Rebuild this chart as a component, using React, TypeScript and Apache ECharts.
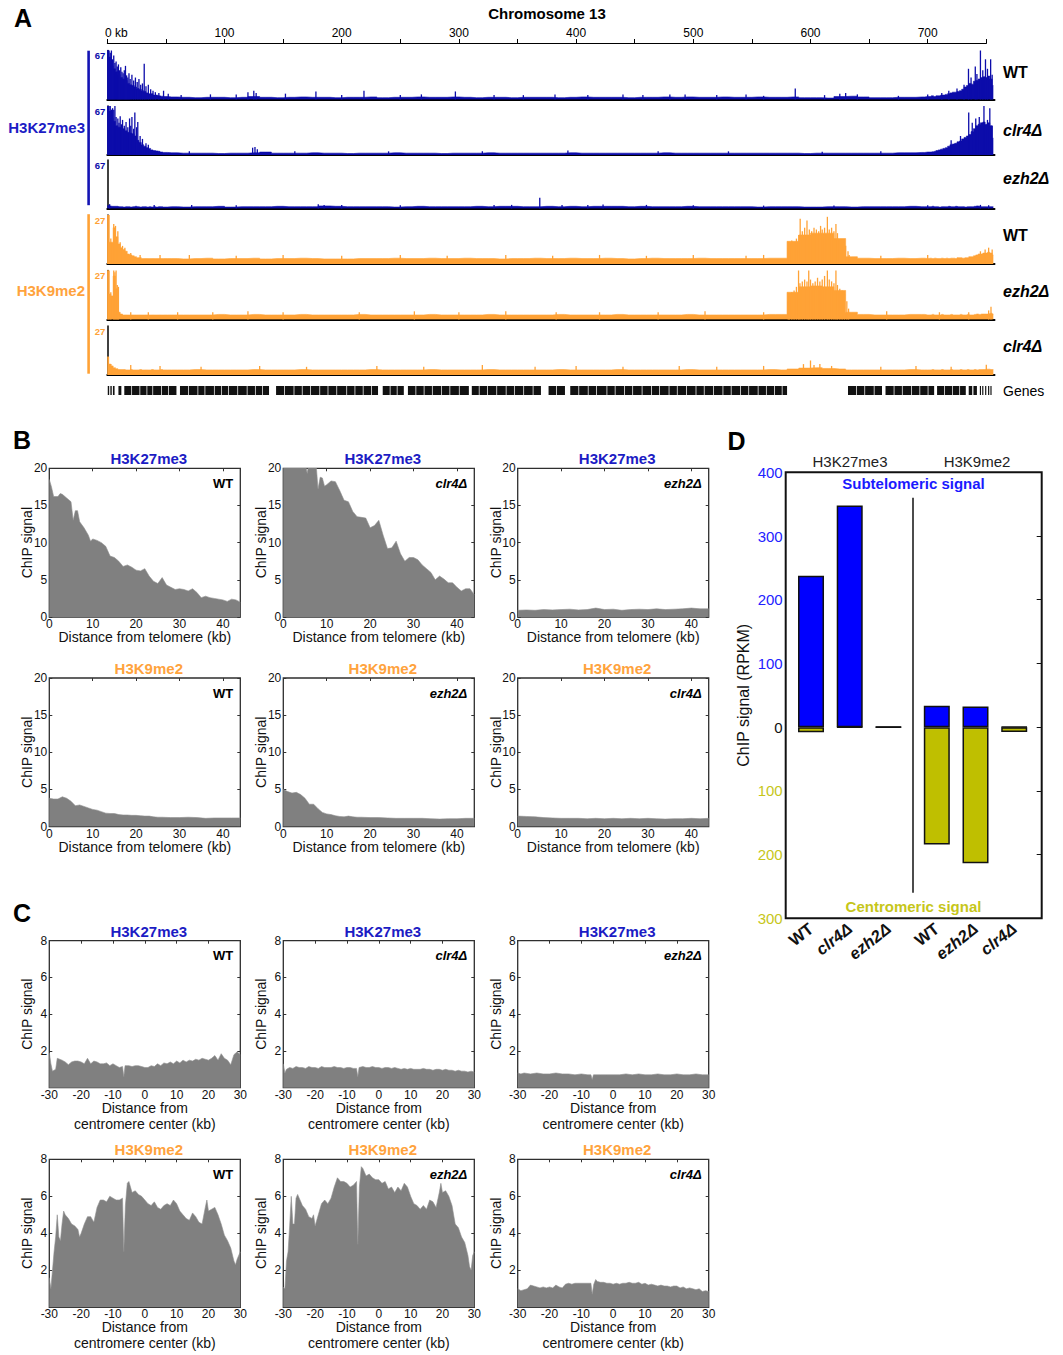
import React, { useEffect, useRef } from "react";
import * as echarts from "echarts";

const FF = "'Liberation Sans', Arial, Helvetica, sans-serif";
const BLUE = "#0c0caa";
const ORANGE = "#ffa236";
const TBLUE = "#1c1cc4";
const TORANGE = "#ffa33d";
const GRAY = "#808080";
const DBLUE = "#0000ff";
const DYELLOW = "#bfbf00";
const DYTEXT = "#c6c61a";

// ---------------- Panel A : Chromosome 13 tracks ----------------
const chromAxisMaxKb = 750;
const chromLengthKb = 757;
const chromTickKb = 50;
// bins: left telomere 0..48 step 2 ; body 55..695 step 10 ; right telomere 700..756 step 2
const k27WtLeft = [67, 58, 46, 42, 38, 34, 30, 28, 26, 22, 20, 19, 17, 15, 14, 12, 11, 9, 8, 8, 6, 6, 5, 4.5, 4];
const k27WtBody = [3.5, 3, 2.5, 3, 3, 2.5, 3, 4, 3, 2.5, 3, 3.5, 3, 3, 2.5, 3, 3, 3.5, 2.5, 3, 3, 3.5, 3, 3, 3.5, 3, 2.5, 3, 3, 2.5, 3, 3, 3, 2.5, 3, 3.5, 3, 3, 3, 2.5, 3, 3, 3.5, 3, 3.5, 3, 3, 3.5, 3, 3, 3.5, 3, 3, 3.5, 2.5, 2.5, 2, 4, 4.5, 3.5, 2.5, 2.5, 3, 3, 3.5];
const k27WtRight = [4, 4, 5, 4, 5, 5, 6, 6, 7, 8, 9, 10, 10, 11, 12, 14, 17, 19, 22, 21, 25, 26, 28, 30, 31, 30, 32, 28, 19];
const k27WtSpikes = [[0.5, 67], [1.5, 67], [2.5, 64], [3.5, 67], [4.5, 55], [5.5, 60], [6.5, 50], [7.5, 52], [8.5, 45], [9.5, 48], [10.5, 40], [11.5, 44], [12.5, 38], [13.5, 36], [14.5, 40], [15.5, 46], [16.5, 33], [17.5, 30], [18.5, 36], [19.5, 28], [21, 34], [22.5, 26], [24, 30], [25.5, 24], [27, 28], [28.5, 20], [30, 22], [31.5, 49], [33, 18], [35, 20], [37, 14], [39, 12], [41, 10], [44, 9], [48, 12], [52, 8], [63, 6], [88, 7], [110, 7], [120, 10], [125, 12], [127, 9], [152, 8], [178, 11], [200, 6], [219, 12], [250, 6], [268, 7], [297, 11], [330, 6], [355, 6], [382, 7], [410, 6], [440, 7], [457, 6], [480, 7], [493, 7], [520, 6], [545, 7], [560, 5], [587, 15], [612, 6], [625, 8], [630, 9], [640, 7], [675, 5], [700, 7], [712, 9], [718, 12], [725, 15], [731, 20], [734.8, 42], [737, 30], [740.6, 45], [742, 35], [745, 67], [747, 40], [749.3, 55], [751, 42], [753.7, 55], [755, 34]];

const k27ClrLeft = [67, 60, 50, 46, 40, 38, 38, 36, 33, 31, 30, 29, 26, 20, 17, 14, 12, 10, 9, 7, 6, 5.5, 5, 4, 3.5];
const k27ClrBody = [3, 2.5, 2.5, 2.5, 2, 2.5, 2.5, 3, 4, 2.5, 2.5, 2.5, 3, 2.5, 2.5, 2, 2.5, 2.5, 2.5, 3, 2.5, 2.5, 2.5, 2, 2.5, 2.5, 2.5, 3, 2.5, 2.5, 2.5, 2.5, 2.5, 2.5, 3, 2.5, 2.5, 2.5, 2.5, 2.5, 2.5, 2.5, 3, 2.5, 2.5, 2.5, 2.5, 2.5, 2.5, 2.5, 2.5, 2.5, 2.5, 2.5, 2, 2.5, 2.5, 2.5, 2.5, 2.5, 2.5, 2.5, 3, 3, 3.5];
const k27ClrRight = [4, 4, 4.5, 5, 6, 7, 8, 9, 10, 12, 14, 15, 16, 18, 19, 22, 24, 26, 28, 32, 36, 40, 42, 44, 45, 42, 44, 40, 23];
const k27ClrSpikes = [[0.5, 67], [1.5, 67], [2.5, 67], [3.5, 62], [4.5, 64], [5.5, 62], [6.5, 67], [7.5, 52], [9, 50], [10, 44], [11, 53], [12, 42], [13, 48], [14.5, 40], [16, 45], [17.5, 38], [19, 50], [20, 40], [21, 52], [22.5, 36], [23.5, 58], [25, 38], [26, 45], [28, 26], [30, 22], [33, 16], [35, 14], [70, 5], [124, 10], [126, 11], [128, 8], [160, 5], [240, 5], [320, 5], [393, 6], [470, 5], [530, 5], [610, 4.5], [660, 5], [720, 20], [728, 26], [735, 58], [738, 44], [741, 50], [744, 52], [748, 67], [751, 48], [753, 64], [755, 40]];

const k27EzhLeft = [4, 3.5, 3, 3, 3, 2.5, 2.5, 2, 2.5, 2.5, 2, 2.5, 3, 2.5, 2, 2.5, 2.5, 2, 2.5, 2, 2.5, 2, 2.5, 2.5, 2];
const k27EzhBody = [2.5, 2, 2.5, 2.5, 3, 2, 2.5, 2.5, 2.5, 3, 2.5, 2.5, 2.5, 3.5, 3, 2.5, 2.5, 2.5, 2.5, 2, 2.5, 3, 2.5, 2.5, 2.5, 2.5, 3, 2.5, 3, 3, 2.5, 2.5, 3, 2.5, 3, 2.5, 3, 3, 3, 2.5, 3, 2.5, 2.5, 2.5, 3, 2.5, 2.5, 2.5, 2.5, 2.5, 2, 2.5, 2.5, 2.5, 2, 2, 2.5, 2.5, 2, 2.5, 2.5, 2.5, 2.5, 3, 2.5];
const k27EzhRight = [2.5, 2.5, 3, 2.5, 2.5, 2, 2.5, 2.5, 2.5, 3, 2.5, 2.5, 3, 2.5, 2.5, 2.5, 2, 2.5, 2.5, 2.5, 3, 3.5, 3, 2.5, 2.5, 2.5, 2.5, 2.5, 2.5];
const k27EzhSpikes = [[2, 6], [40, 5], [72, 5], [110, 4.5], [180, 6], [185, 5], [200, 5], [250, 4.5], [330, 5], [345, 5], [369, 15], [388, 5], [410, 5], [423, 5.5], [460, 5], [500, 4.5], [560, 4], [620, 4], [700, 4.5], [745, 5], [752, 4.5]];

const k9WtLeft = [27, 12, 12, 20, 15, 11, 9, 8, 7, 5.5, 5, 4.5, 4, 3.5, 3.5, 3, 3, 3, 3, 3, 3, 3, 3, 3, 3];
const k9WtBody = [3, 2.8, 3, 3.2, 2.8, 3, 3, 3.2, 2.8, 3, 3, 3.2, 3, 2.8, 2.8, 2.8, 3, 3, 3, 3.2, 3, 3, 3.2, 3, 3, 3.2, 3, 3, 2.8, 3, 3, 3.2, 3, 3, 3.2, 3, 3, 3.2, 3, 2.8, 3, 3.2, 3, 3, 3, 3.2, 3, 3, 3, 3, 3, 3.2, 3.2, 12.5, 16, 17, 17, 14, 4, 3.2, 3, 3, 3.2, 3, 3.2];
const k9WtRight = [3, 3.2, 3, 3.2, 3, 3, 3.2, 3, 3.2, 3, 3.2, 3.2, 3, 3.5, 3.5, 3.2, 3.5, 3.5, 4, 4, 4.5, 5, 5.5, 5.5, 6, 6, 6.5, 6, 5];
const k9WtSpikes = [[0.5, 27], [1.5, 27], [3, 14], [5.5, 22], [7, 21], [9, 18], [11, 12], [13, 10], [15, 9], [20, 6], [28, 5], [45, 5], [70, 5], [110, 4.5], [150, 5], [200, 4.5], [250, 5], [290, 4.5], [340, 5], [380, 4.5], [420, 5], [460, 4.5], [500, 5], [545, 4.5], [560, 5], [581, 9], [582, 11], [584, 13], [586, 12], [588, 14], [590, 16], [591.2, 25], [593, 18], [595, 20], [597, 24], [599, 19], [601, 18], [603, 20], [605, 19], [607, 18], [608.6, 21], [610, 19], [612, 20], [614.4, 26], [616, 19], [618, 20], [620, 18], [621.7, 22], [623, 17], [626, 13], [628, 12], [630, 10], [632, 7], [633, 5], [660, 4.5], [700, 5], [745, 7], [749, 8], [752, 9], [755, 8]];

const k9EzhLeft = [27, 14, 13, 24, 17, 4, 3, 2.5, 2.5, 2.5, 2.5, 2.5, 2.5, 2.5, 2.5, 2.5, 2.5, 2.5, 2.5, 2.5, 2.5, 2.5, 2.5, 2.5, 2.5];
const k9EzhBody = [2.5, 2.5, 2.5, 2.5, 2.8, 2.5, 2.5, 2.8, 2.5, 2.5, 2.5, 2.8, 2.5, 2.5, 2.5, 2.5, 2.8, 2.5, 2.5, 2.5, 2.5, 2.5, 2.8, 2.5, 2.5, 2.5, 2.5, 2.8, 2.5, 2.5, 2.5, 2.5, 2.5, 2.8, 2.5, 2.5, 2.5, 2.5, 2.8, 2.5, 2.5, 2.5, 2.5, 2.5, 2.8, 2.5, 2.5, 2.5, 2.5, 2.5, 2.5, 2.8, 2.8, 15, 18, 18.5, 18, 16, 4, 2.8, 2.5, 2.5, 2.5, 2.8, 2.8];
const k9EzhRight = [2.5, 2.5, 2.8, 2.5, 2.5, 2.5, 2.8, 2.5, 2.5, 2.5, 2.8, 2.5, 2.5, 2.5, 2.8, 2.5, 2.5, 2.8, 2.5, 2.5, 2.8, 3, 2.8, 3, 3, 3, 3.2, 3.5, 3];
const k9EzhSpikes = [[0.5, 27], [1.5, 27], [3, 15], [5.5, 27], [6.5, 26], [7.5, 27], [8.5, 19], [9.5, 18], [20, 4], [35, 4], [60, 4], [90, 4], [120, 4.5], [150, 4], [215, 4], [262, 4.5], [300, 4], [340, 4.5], [383, 4], [420, 4], [470, 4], [510, 4.5], [560, 4], [581, 10], [582, 13], [584, 15], [586, 16], [588, 18], [589.8, 27], [591, 20], [593, 21], [595, 22], [597, 21], [598.5, 27], [600, 22], [602, 20], [604, 21], [606, 23], [608, 21], [610, 22], [612, 24], [614.4, 27], [616, 22], [618, 21], [620, 20], [621.7, 27], [623, 19], [625, 17], [627, 16], [629, 14], [631, 10], [632.5, 6], [665, 4.5], [710, 4], [735, 4], [752, 5], [754, 7]];

const k9ClrLeft = [10, 6, 5, 4, 3.5, 3, 3, 3, 2.8, 2.8, 3, 2.8, 2.8, 2.8, 3, 2.8, 2.8, 2.8, 2.8, 3, 2.8, 2.8, 2.8, 3, 2.8];
const k9ClrBody = [2.8, 2.8, 3, 2.8, 2.8, 2.8, 2.8, 3, 2.8, 2.8, 2.8, 3, 2.8, 2.8, 2.8, 2.8, 2.8, 3, 2.8, 2.8, 2.8, 2.8, 3, 2.8, 2.8, 2.8, 2.8, 3, 2.8, 2.8, 2.8, 2.8, 2.8, 3, 2.8, 2.8, 2.8, 2.8, 3, 2.8, 2.8, 2.8, 2.8, 2.8, 3, 2.8, 2.8, 2.8, 2.8, 2.8, 2.8, 3, 2.8, 3.3, 3.8, 4, 3.6, 3.3, 2.8, 2.8, 2.8, 2.8, 2.8, 3, 2.8];
const k9ClrRight = [2.8, 2.8, 3, 2.8, 2.8, 2.8, 3, 2.8, 2.8, 2.8, 3, 2.8, 2.8, 2.8, 3, 2.8, 2.8, 3, 2.8, 2.8, 3, 2.8, 3, 3, 3, 3.2, 3.2, 3, 3];
const k9ClrSpikes = [[1, 10], [3, 6], [20, 5.5], [45, 5], [80, 4.5], [130, 5], [170, 4.5], [230, 5], [270, 4.5], [320, 5.5], [365, 4.5], [400, 5], [440, 4.5], [488, 5], [520, 4.5], [560, 5], [594, 6], [600, 8], [603, 5.5], [608, 6], [618, 5], [660, 4.5], [690, 5], [720, 4.5], [750, 5.6]];

// genes: [start kb, end kb]
const genesKb = [[0.4, 1.6], [2.6, 3.8], [4.8, 6.2], [9.5, 12], [14.5, 20.5], [21.1, 27.5], [28.1, 33.5], [34.1, 38.5], [39.1, 46], [46.6, 52], [52.6, 59], [62, 69], [69.6, 77], [77.6, 83], [83.6, 91], [91.6, 97], [97.6, 103], [103.6, 111], [111.6, 119], [119.6, 126], [126.6, 132], [132.6, 138], [144, 151], [151.6, 159], [159.6, 166], [166.6, 173], [173.6, 181], [181.6, 188], [188.6, 195.5], [196.1, 204], [204.6, 211], [211.6, 218], [218.6, 225], [225.6, 231], [235, 241], [241.6, 247], [247.6, 253], [256.5, 263], [263.6, 270], [270.6, 277], [277.6, 285], [285.6, 292], [292.6, 300], [300.6, 308.5], [311, 317], [317.6, 324], [324.6, 332], [332.6, 340], [340.6, 347], [347.6, 355], [355.6, 363], [363.6, 370], [376.5, 383], [383.6, 390.5], [395, 402], [402.6, 410], [410.6, 417], [417.6, 426], [426.6, 433], [433.6, 441], [441.6, 448], [448.6, 456], [456.6, 464], [464.6, 471], [471.6, 479], [479.6, 486], [486.6, 494], [494.6, 502], [502.6, 509], [509.6, 517], [517.6, 525], [525.6, 532], [532.6, 540], [540.6, 547], [547.6, 555], [555.6, 562], [562.6, 569], [569.6, 575.5], [576.1, 580], [632, 639], [639.6, 646], [646.6, 654], [654.6, 661], [664, 671], [671.6, 678], [678.6, 686], [686.6, 693], [693.6, 700], [700.6, 705.5], [708, 714], [714.6, 721], [721.6, 727], [727.6, 732.5], [735, 738], [739, 742], [744.5, 745.5], [746.5, 747.5], [749, 750], [751.5, 752.5], [753.5, 754.5]];

// ---------------- Panel B : distance from telomere ----------------
const bK27Wt = [[0, 18.5], [0.5, 17.5], [1, 16.2], [2, 16.2], [2.5, 16.6], [3, 16.5], [4, 16], [5, 15.5], [5.5, 13], [6, 14.3], [6.5, 14.3], [7, 12.8], [8, 12], [9, 11], [9.5, 10.2], [10, 10.5], [11, 10.3], [12, 10], [13, 9.5], [14, 8.2], [15, 8], [16, 7.5], [17, 6.8], [18, 7], [19, 6.7], [20, 6.3], [21, 6.2], [22, 6.5], [23, 5.5], [24, 4.8], [25, 4.5], [26, 5.3], [27, 4.3], [28, 4], [29, 3.7], [30, 3.8], [31, 3.7], [32, 3.5], [33, 3.8], [34, 3.3], [35, 2.6], [36, 2.8], [37, 2.6], [38, 2.5], [39, 2.4], [40, 2.3], [41, 2.1], [42, 2.4], [43, 2.3], [44, 2.0]];
const bK27Clr = [[0, 21], [5, 21], [5.5, 19.3], [6, 21], [7.5, 21], [8, 17.2], [8.5, 18.8], [9, 18.7], [9.5, 17.6], [10, 17.8], [11, 18.3], [12, 18.2], [13, 17], [14, 15.7], [15, 15.5], [16, 14.2], [17, 13.5], [18, 13.4], [19, 13.3], [20, 12], [21, 12.3], [22, 13], [23, 11], [24, 9.2], [25, 9.3], [26, 10.2], [27, 8.5], [28, 7.5], [29, 8], [30, 8], [31, 7.7], [32, 7], [33, 6.5], [34, 6], [35, 5], [36, 5.5], [37, 5.1], [38, 4.6], [39, 4.6], [40, 4], [41, 3.5], [42, 3.8], [43, 3.8], [44, 3]];
const bK27Ezh = [[0, 0.9], [2, 0.95], [4, 0.9], [6, 1.0], [8, 0.95], [10, 1.0], [12, 1.05], [14, 0.95], [16, 1.0], [18, 1.2], [20, 1.0], [22, 1.05], [24, 0.9], [26, 1.0], [28, 1.05], [30, 1.0], [32, 1.1], [34, 1.0], [36, 1.05], [38, 1.1], [40, 1.2], [42, 1.1], [44, 1.1]];
const bK9Wt = [[0, 3.8], [1, 3.7], [2, 3.7], [3, 4.0], [4, 3.8], [5, 3.4], [6, 2.8], [7, 2.9], [8, 2.7], [9, 2.5], [10, 2.3], [11, 2.2], [12, 2.0], [13, 1.8], [14, 1.75], [15, 1.75], [16, 1.6], [17, 1.55], [18, 1.55], [19, 1.5], [20, 1.5], [21, 1.45], [22, 1.4], [23, 1.4], [24, 1.3], [25, 1.25], [26, 1.25], [28, 1.2], [30, 1.2], [32, 1.25], [34, 1.2], [36, 1.1], [38, 1.15], [40, 1.15], [42, 1.15], [44, 1.15]];
const bK9Ezh = [[0, 5.0], [1, 4.7], [2, 4.5], [3, 4.6], [4, 4.3], [5, 3.8], [6, 3.0], [7, 3.0], [8, 2.4], [9, 1.9], [10, 1.7], [11, 1.6], [12, 1.45], [13, 1.35], [14, 1.3], [15, 1.4], [16, 1.3], [17, 1.25], [18, 1.25], [20, 1.2], [22, 1.2], [24, 1.15], [26, 1.1], [28, 1.1], [30, 1.1], [32, 1.1], [34, 1.05], [36, 1.0], [38, 1.05], [40, 1.05], [42, 1.1], [44, 1.1]];
const bK9Clr = [[0, 1.4], [2, 1.35], [4, 1.3], [6, 1.2], [8, 1.15], [10, 1.1], [12, 1.1], [14, 1.1], [16, 1.05], [18, 1.1], [20, 1.05], [22, 1.1], [24, 1.05], [26, 1.1], [28, 1.05], [30, 1.1], [32, 1.05], [34, 1.0], [36, 1.05], [38, 1.05], [40, 1.1], [42, 1.05], [44, 1.1]];

// ---------------- Panel C : distance from centromere center ----------------
const cK27Wt = [[-30, 1.9], [-29.5, 1.3], [-29, 0.9], [-28, 1.0], [-27.5, 1.6], [-26, 1.5], [-25, 1.4], [-24, 1.25], [-23, 1.4], [-22, 1.45], [-21, 1.45], [-20, 1.4], [-19, 1.3], [-18, 1.6], [-17, 1.3], [-16, 1.45], [-15, 1.4], [-14, 1.3], [-13, 1.3], [-12, 1.35], [-11, 1.2], [-10, 1.3], [-9, 1.2], [-8, 1.1], [-7, 1.15], [-6.6, 0.6], [-6.2, 1.2], [-5, 1.2], [-4, 1.15], [-3, 1.2], [-2, 1.2], [-1, 1.15], [0, 1.1], [1, 1.1], [2, 1.2], [3, 1.15], [4, 1.3], [5, 1.2], [6, 1.35], [7, 1.3], [8, 1.4], [9, 1.3], [10, 1.45], [11, 1.35], [12, 1.5], [13, 1.4], [14, 1.5], [15, 1.45], [16, 1.55], [17, 1.5], [18, 1.6], [19, 1.55], [20, 1.5], [21, 1.6], [22, 1.75], [23, 1.5], [24, 1.85], [25, 1.6], [26, 1.5], [27, 1.25], [28, 1.8], [29, 1.95], [30, 1.8]];
const cK27Clr = [[-30, 1.3], [-29.5, 0.8], [-29, 1.0], [-28, 1.1], [-27, 1.05], [-26, 1.15], [-25, 1.1], [-24, 1.1], [-23, 1.05], [-22, 1.15], [-21, 1.1], [-20, 1.1], [-19, 1.05], [-18, 1.15], [-17, 1.1], [-16, 1.1], [-15, 1.1], [-14, 1.15], [-13, 1.1], [-12, 1.1], [-11, 1.05], [-10, 1.1], [-9, 1.1], [-8, 1.05], [-7, 1.05], [-6.6, 0.6], [-6.2, 1.1], [-5, 1.15], [-4, 1.1], [-3, 1.1], [-2, 1.15], [-1, 1.1], [0, 1.1], [1, 1.05], [2, 1.1], [3, 1.1], [4, 1.05], [5, 1.1], [6, 1.05], [7, 1.0], [8, 1.05], [9, 1.0], [10, 1.05], [11, 1.0], [12, 1.0], [13, 1.0], [14, 1.05], [15, 1.0], [16, 1.0], [17, 0.95], [18, 1.0], [19, 1.0], [20, 0.95], [21, 1.0], [22, 0.95], [23, 0.95], [24, 0.9], [25, 0.95], [26, 0.9], [27, 0.9], [28, 0.85], [29, 0.9], [30, 0.85]];
const cK27Ezh = [[-30, 0.8], [-29, 0.75], [-28, 0.8], [-26, 0.75], [-24, 0.8], [-22, 0.75], [-20, 0.75], [-18, 0.8], [-16, 0.75], [-14, 0.75], [-12, 0.7], [-10, 0.75], [-8, 0.7], [-7, 0.7], [-6.6, 0.45], [-6.2, 0.7], [-4, 0.7], [-2, 0.7], [0, 0.7], [2, 0.7], [4, 0.75], [6, 0.7], [8, 0.75], [10, 0.7], [12, 0.7], [14, 0.75], [16, 0.7], [18, 0.7], [20, 0.75], [22, 0.7], [24, 0.7], [26, 0.75], [28, 0.7], [30, 0.7]];
const cK9Wt = [[-30, 1.6], [-29.5, 1.0], [-29, 2.0], [-28.5, 3.0], [-28, 3.8], [-27.5, 5.0], [-27, 3.8], [-26.5, 3.6], [-26, 4.5], [-25.5, 5.2], [-25, 5.0], [-24, 4.8], [-23, 4.5], [-22, 4.4], [-21, 4.2], [-20.5, 3.8], [-20, 4.0], [-19, 4.5], [-18, 4.9], [-17, 4.9], [-16, 4.6], [-15, 5.4], [-14, 5.8], [-13, 5.8], [-12, 5.7], [-11, 6.0], [-10, 5.9], [-9, 5.8], [-8, 5.8], [-7, 5.9], [-6.6, 3.0], [-6.1, 5.5], [-5.5, 6.7], [-5, 6.8], [-4, 6.2], [-3, 6.3], [-2, 6.1], [-1, 6.0], [0, 5.8], [1, 5.6], [2, 5.5], [3, 5.7], [4, 5.4], [5, 5.3], [6, 5.5], [7, 5.6], [8, 5.5], [9, 5.8], [10, 5.6], [11, 5.2], [12, 5.0], [13, 4.8], [14, 4.7], [15, 5.1], [16, 4.9], [17, 4.6], [18, 4.5], [19, 5.4], [19.5, 5.8], [20, 5.2], [21, 5.3], [22, 5.4], [23, 5.0], [24, 4.5], [25, 3.9], [26, 3.6], [27, 3.2], [28, 2.5], [28.5, 2.3], [29, 2.6], [30, 3.0]];
const cK9Ezh = [[-30, 1.1], [-29.5, 1.0], [-29, 2.5], [-28.5, 3.0], [-28, 4.4], [-27.5, 6.0], [-27, 4.5], [-26.5, 4.5], [-26, 5.9], [-25.5, 6.1], [-25, 5.9], [-24, 5.5], [-23, 5.3], [-22, 4.9], [-21, 4.8], [-20.5, 5.0], [-20, 4.4], [-19, 5.0], [-18, 5.6], [-17, 5.8], [-16, 5.6], [-15, 5.9], [-14, 6.5], [-13, 7.0], [-12, 6.8], [-11, 6.8], [-10, 6.7], [-9, 6.5], [-8, 6.6], [-7, 6.8], [-6.6, 3.4], [-6.1, 6.5], [-5.5, 7.6], [-5, 7.5], [-4, 7.1], [-3, 7.2], [-2, 7.0], [-1, 6.9], [0, 6.9], [1, 6.7], [2, 6.8], [3, 6.4], [4, 6.5], [5, 6.2], [6, 6.5], [7, 6.3], [8, 6.7], [9, 6.5], [10, 6.0], [11, 5.6], [12, 5.5], [13, 5.3], [14, 5.5], [15, 5.3], [16, 5.8], [17, 5.7], [18, 5.4], [19, 6.2], [19.5, 6.7], [20, 6.2], [21, 6.3], [22, 6.0], [23, 5.5], [24, 4.5], [25, 4.3], [26, 3.8], [27, 3.5], [28, 2.8], [28.5, 2.2], [29, 2.0], [29.5, 2.8], [30, 3.0]];
const cK9Clr = [[-30, 1.0], [-29, 0.9], [-28, 0.95], [-27, 1.0], [-26, 1.2], [-25, 1.15], [-24, 1.1], [-23, 1.05], [-22, 1.1], [-21, 1.05], [-20, 1.1], [-19, 1.05], [-18, 1.2], [-17, 1.1], [-16, 1.05], [-15, 1.25], [-14, 1.3], [-13, 1.25], [-12, 1.3], [-11, 1.3], [-10, 1.3], [-9, 1.3], [-8, 1.3], [-7, 1.3], [-6.6, 0.7], [-6.1, 1.25], [-5.5, 1.5], [-5, 1.4], [-4, 1.35], [-3, 1.35], [-2, 1.3], [-1, 1.3], [0, 1.25], [1, 1.3], [2, 1.25], [3, 1.3], [4, 1.3], [5, 1.35], [6, 1.3], [7, 1.3], [8, 1.35], [9, 1.25], [10, 1.3], [11, 1.2], [12, 1.25], [13, 1.2], [14, 1.15], [15, 1.2], [16, 1.15], [17, 1.15], [18, 1.1], [19, 1.15], [20, 1.15], [21, 1.05], [22, 1.1], [23, 1.0], [24, 1.05], [25, 1.0], [26, 0.95], [27, 1.0], [28, 0.85], [29, 0.9], [30, 0.85]];

// ---------------- Panel D : RPKM bars ----------------
const dPos = [1, 2, 3, 4.25, 5.25, 6.25];
const dLabels = ["WT", "clr4Δ", "ezh2Δ", "WT", "ezh2Δ", "clr4Δ"];
const dSubtelomeric = [237.5, 348, 0.6, 33.5, 32.5, 0.6];
const dCentromeric = [8, 0.6, 0.6, 184, 213.5, 7.5];
const dDividerX = 3.64;
const dDividerRange = [-260, 360];

function trackPoints(left: number[], body: number[], right: number[]) {
  const pts: number[][] = [];
  left.forEach((v, i) => pts.push([i * 2, v]));
  body.forEach((v, i) => pts.push([55 + i * 10, v]));
  right.forEach((v, i) => pts.push([700 + i * 2, v]));
  return pts;
}

function buildOption() {
  const grid: any[] = [];
  const xAxis: any[] = [];
  const yAxis: any[] = [];
  const series: any[] = [];
  const g: any[] = [];
  const addGrid = (o: any) => grid.push({ containLabel: false, outerBoundsMode: "none", ...o }) - 1;
  const addX = (o: any) => xAxis.push(o) - 1;
  const addY = (o: any) => yAxis.push(o) - 1;
  const txt = (x: number, y: number, text: string, size: number, o: any = {}) =>
    g.push({
      type: "text",
      x,
      y,
      rotation: o.rotation || 0,
      silent: true,
      style: {
        text,
        font: `${o.italic ? "italic " : ""}${o.bold ? "bold " : ""}${size}px ${FF}`,
        fill: o.color || "#000",
        textAlign: o.align || "left",
        textVerticalAlign: "middle",
      },
    });

  // ---------- Panel A ----------
  const A_LEFT = 107.3;
  const PX_KB = 1.172;
  txt(23, 18, "A", 25, { bold: true, align: "center" });
  txt(547, 13.5, "Chromosome 13", 15, { bold: true, align: "center" });

  const tg = addGrid({ left: A_LEFT, top: 43.5, width: chromAxisMaxKb * PX_KB, height: 10 });
  addX({
    gridIndex: tg, type: "value", position: "top", min: 0, max: chromAxisMaxKb, interval: chromTickKb,
    axisLine: { show: true, onZero: false, lineStyle: { color: "#000", width: 1 } },
    axisTick: { show: true, length: 4.5, lineStyle: { color: "#000", width: 1 } },
    splitLine: { show: false },
    axisLabel: {
      margin: 5, fontSize: 12, color: "#000", fontFamily: FF,
      formatter: (v: number) => (v === 0 ? "{z|0 kb}" : v % 100 === 0 ? String(v) : ""),
      rich: { z: { fontSize: 12, fontFamily: FF, color: "#000", padding: [0, 0, 0, 18] } },
    },
  });
  addY({ gridIndex: tg, type: "value", show: false, min: 0, max: 1 });

  const tracks = [
    { l: k27WtLeft, b: k27WtBody, r: k27WtRight, s: k27WtSpikes, max: 67, color: BLUE, top: 50.5, h: 49 },
    { l: k27ClrLeft, b: k27ClrBody, r: k27ClrRight, s: k27ClrSpikes, max: 67, color: BLUE, top: 106, h: 49 },
    { l: k27EzhLeft, b: k27EzhBody, r: k27EzhRight, s: k27EzhSpikes, max: 67, color: BLUE, top: 160, h: 48.5 },
    { l: k9WtLeft, b: k9WtBody, r: k9WtRight, s: k9WtSpikes, max: 27, color: ORANGE, top: 215, h: 49 },
    { l: k9EzhLeft, b: k9EzhBody, r: k9EzhRight, s: k9EzhSpikes, max: 27, color: ORANGE, top: 270.5, h: 49 },
    { l: k9ClrLeft, b: k9ClrBody, r: k9ClrRight, s: k9ClrSpikes, max: 27, color: ORANGE, top: 326, h: 49 },
  ];
  tracks.forEach((t) => {
    const gi = addGrid({ left: A_LEFT, top: t.top, width: chromLengthKb * PX_KB, height: t.h });
    const xi = addX({
      gridIndex: gi, type: "value", min: 0, max: chromLengthKb,
      axisLine: { show: true, onZero: false, lineStyle: { color: "#000", width: 2 } },
      axisTick: { show: false }, axisLabel: { show: false }, splitLine: { show: false },
    });
    const yi = addY({
      gridIndex: gi, type: "value", min: 0, max: t.max, interval: t.max,
      axisLine: { show: true, onZero: false, lineStyle: { color: "#000", width: 1.5 } },
      axisTick: { show: false }, splitLine: { show: false },
      axisLabel: {
        margin: 2, fontSize: 9.5, fontWeight: "bold", color: t.color, fontFamily: FF, verticalAlign: "top",
        formatter: (v: number) => (v === t.max ? String(t.max) : ""),
      },
    });
    series.push({
      type: "line", xAxisIndex: xi, yAxisIndex: yi, step: "middle", symbol: "none", silent: true,
      data: trackPoints(t.l, t.b, t.r), lineStyle: { width: 0.6, color: t.color },
      areaStyle: { color: t.color, opacity: 1 }, clip: true, z: 2,
    });
    series.push({
      type: "bar", xAxisIndex: xi, yAxisIndex: yi, barWidth: 1.3, silent: true,
      data: t.s, itemStyle: { color: t.color }, z: 3,
    });
  });

  // genes
  const gg = addGrid({ left: A_LEFT, top: 386, width: chromLengthKb * PX_KB, height: 9 });
  const gx = addX({ gridIndex: gg, type: "value", min: 0, max: chromLengthKb, show: false });
  const gy = addY({ gridIndex: gg, type: "value", min: 0, max: 1, show: false });
  series.push({
    type: "custom", xAxisIndex: gx, yAxisIndex: gy, silent: true,
    data: genesKb.map((d) => [d[0], d[1], 0.5]),
    encode: { x: [0, 1], y: 2 },
    renderItem: (params: any, api: any) => {
      const s = api.coord([api.value(0), api.value(2)]);
      const e = api.coord([api.value(1), api.value(2)]);
      const h = api.size([0, 1])[1];
      return {
        type: "rect",
        shape: { x: s[0], y: s[1] - h / 2, width: Math.max(e[0] - s[0], 0.8), height: h },
        style: { fill: "#111" },
      };
    },
  });

  // panel A decorations
  g.push({ type: "rect", silent: true, shape: { x: 87.3, y: 50.7, width: 2.6, height: 154.5 }, style: { fill: "#1414b4" } });
  g.push({ type: "rect", silent: true, shape: { x: 87.3, y: 214.2, width: 2.6, height: 159.5 }, style: { fill: ORANGE } });
  txt(85, 127, "H3K27me3", 15, { bold: true, align: "right", color: TBLUE });
  txt(85, 290.5, "H3K9me2", 15, { bold: true, align: "right", color: TORANGE });
  const rightLabels = [
    ["WT", 72, false], ["clr4Δ", 130.5, true], ["ezh2Δ", 178, true],
    ["WT", 235.5, false], ["ezh2Δ", 291, true], ["clr4Δ", 346.5, true],
  ];
  rightLabels.forEach((r: any) => txt(1003, r[1], r[0], 16, { bold: true, italic: r[2] }));
  txt(1003, 390.5, "Genes", 14);

  // ---------- Panels B & C ----------
  txt(22, 440, "B", 25, { bold: true, align: "center" });
  txt(22, 913, "C", 25, { bold: true, align: "center" });
  const cols = [49.3, 283.3, 517.7];
  const W = 191;
  const rows = [
    { top: 468.3, h: 148.7, kind: "B", title: "H3K27me3", tc: TBLUE, data: [bK27Wt, bK27Clr, bK27Ezh], strains: ["WT", "clr4Δ", "ezh2Δ"] },
    { top: 678, h: 148.5, kind: "B", title: "H3K9me2", tc: TORANGE, data: [bK9Wt, bK9Ezh, bK9Clr], strains: ["WT", "ezh2Δ", "clr4Δ"] },
    { top: 940.7, h: 147, kind: "C", title: "H3K27me3", tc: TBLUE, data: [cK27Wt, cK27Clr, cK27Ezh], strains: ["WT", "clr4Δ", "ezh2Δ"] },
    { top: 1159.3, h: 148, kind: "C", title: "H3K9me2", tc: TORANGE, data: [cK9Wt, cK9Ezh, cK9Clr], strains: ["WT", "ezh2Δ", "clr4Δ"] },
  ];
  rows.forEach((row) => {
    cols.forEach((left, ci) => {
      const isB = row.kind === "B";
      const xMin = isB ? 0 : -30;
      const xMax = isB ? 44 : 30;
      const yMax = isB ? 20 : 8;
      const yInt = isB ? 5 : 2;
      const gi = addGrid({ left, top: row.top, width: W, height: row.h, show: true, borderColor: "#2e2e2e", borderWidth: 1.3, backgroundColor: "rgba(0,0,0,0)" });
      const tick = { show: true, inside: true, length: 3, lineStyle: { color: "#333", width: 1 } };
      const xi = addX({
        gridIndex: gi, type: "value", min: xMin, max: xMax, interval: 10, position: "bottom",
        axisLine: { show: false, onZero: false }, axisTick: tick, splitLine: { show: false },
        axisLabel: { margin: 1, fontSize: 12, color: "#111", fontFamily: FF, formatter: (v: number) => (v % 10 === 0 ? String(v) : "") },
        name: isB ? "Distance from telomere (kb)" : "Distance from\ncentromere center (kb)",
        nameLocation: "middle", nameGap: 12, nameMoveOverlap: false,
        nameTextStyle: { fontSize: 14, color: "#111", fontFamily: FF, lineHeight: 16 },
      });
      addX({
        gridIndex: gi, type: "value", min: xMin, max: xMax, interval: 10, position: "top",
        axisLine: { show: false, onZero: false }, axisTick: tick, axisLabel: { show: false }, splitLine: { show: false },
      });
      const yi = addY({
        gridIndex: gi, type: "value", min: 0, max: yMax, interval: yInt, position: "left",
        axisLine: { show: false, onZero: false }, axisTick: tick, splitLine: { show: false },
        axisLabel: { margin: 2, fontSize: 12, color: "#111", fontFamily: FF, formatter: (v: number) => (!isB && v === 0 ? "" : String(v)) },
        name: "ChIP signal", nameLocation: "middle", nameGap: 15, nameMoveOverlap: false,
        nameTextStyle: { fontSize: 14, color: "#111", fontFamily: FF },
      });
      addY({
        gridIndex: gi, type: "value", min: 0, max: yMax, interval: yInt, position: "right",
        axisLine: { show: false, onZero: false }, axisTick: tick, axisLabel: { show: false }, splitLine: { show: false },
      });
      series.push({
        type: "line", xAxisIndex: xi, yAxisIndex: yi, symbol: "none", silent: true, clip: true,
        data: row.data[ci], lineStyle: { width: 0.6, color: "#8e8e8e" }, areaStyle: { color: GRAY, opacity: 1 },
      });
      txt(left + W / 2 + 4, row.top - 9.5, row.title, 15, { bold: true, align: "center", color: row.tc });
      const st = row.strains[ci];
      txt(left + W - 7, row.top + 15, st, 13, { bold: true, italic: st !== "WT", align: "right" });
    });
  });

  // ---------- Panel D ----------
  txt(736.5, 441, "D", 25, { bold: true, align: "center" });
  const dg = addGrid({ left: 785.7, top: 472.3, width: 256, height: 446, show: true, borderColor: "#111", borderWidth: 2, backgroundColor: "rgba(0,0,0,0)" });
  const dx = addX({
    gridIndex: dg, type: "value", min: 0.346, max: 6.96,
    axisLine: { show: false, onZero: false }, axisTick: { show: false }, splitLine: { show: false },
    axisLabel: {
      customValues: dPos, rotate: 38, margin: 8,
      formatter: (v: number) => {
        const i = dPos.findIndex((p) => Math.abs(p - v) < 1e-6);
        if (i < 0) return "";
        const t = dLabels[i];
        return t === "WT" ? `{b|${t}}` : `{i|${t}}`;
      },
      rich: {
        b: { fontSize: 16.5, fontWeight: "bold", color: "#111", fontFamily: FF },
        i: { fontSize: 16.5, fontWeight: "bold", fontStyle: "italic", color: "#111", fontFamily: FF },
      },
    },
  });
  const dy = addY({
    gridIndex: dg, type: "value", min: -300, max: 400, interval: 100, position: "left",
    axisLine: { show: false, onZero: false }, axisTick: { show: false }, splitLine: { show: false },
    axisLabel: {
      margin: 3,
      formatter: (v: number) => (v > 0 ? `{p|${v}}` : v < 0 ? `{n|${-v}}` : `{z|0}`),
      rich: {
        p: { fontSize: 15, color: "#2222ff", fontFamily: FF },
        n: { fontSize: 15, color: DYTEXT, fontFamily: FF },
        z: { fontSize: 15, color: "#111", fontFamily: FF },
      },
    },
    name: "ChIP signal (RPKM)", nameLocation: "middle", nameGap: 34, nameMoveOverlap: false,
    nameTextStyle: { fontSize: 16, color: "#111", fontFamily: FF },
  });
  addY({
    gridIndex: dg, type: "value", min: -300, max: 400, interval: 100, position: "right",
    axisLine: { show: false, onZero: false }, axisLabel: { show: false }, splitLine: { show: false },
    axisTick: { show: true, inside: true, length: 5, lineStyle: { color: "#111", width: 1 } },
  });
  series.push({
    type: "bar", xAxisIndex: dx, yAxisIndex: dy, stack: "d", barWidth: 26, silent: true,
    data: dSubtelomeric.map((v, i) => [dPos[i], v]),
    itemStyle: { color: DBLUE, borderColor: "#111", borderWidth: 1.5 },
    markLine: {
      silent: true, symbol: ["none", "none"], label: { show: false },
      lineStyle: { color: "#111", width: 1.5, type: "solid" },
      data: [[{ coord: [dDividerX, dDividerRange[0]] }, { coord: [dDividerX, dDividerRange[1]] }]],
    },
  });
  series.push({
    type: "bar", xAxisIndex: dx, yAxisIndex: dy, stack: "d", barWidth: 26, silent: true,
    data: dCentromeric.map((v, i) => [dPos[i], -v]),
    itemStyle: { color: DYELLOW, borderColor: "#111", borderWidth: 1.5 },
  });
  txt(850, 461.5, "H3K27me3", 15, { align: "center", color: "#222" });
  txt(977, 461.5, "H3K9me2", 15, { align: "center", color: "#222" });
  txt(913.5, 483.5, "Subtelomeric signal", 15, { bold: true, align: "center", color: "#1a1aff" });
  txt(913.5, 906, "Centromeric signal", 15, { bold: true, align: "center", color: DYTEXT });

  return {
    animation: false,
    backgroundColor: "#fff",
    textStyle: { fontFamily: FF },
    grid, xAxis, yAxis, series,
    graphic: { elements: g },
  };
}

export default function App() {
  const ref = useRef<HTMLDivElement>(null);
  useEffect(() => {
    if (!ref.current) return;
    const chart = echarts.init(ref.current, undefined, { renderer: "svg" });
    chart.setOption(buildOption());
    return () => chart.dispose();
  }, []);
  return (
    <div
      ref={ref}
      style={{ position: "absolute", left: 0, top: 0, width: 1063, height: 1355, background: "#fff" }}
    />
  );
}
